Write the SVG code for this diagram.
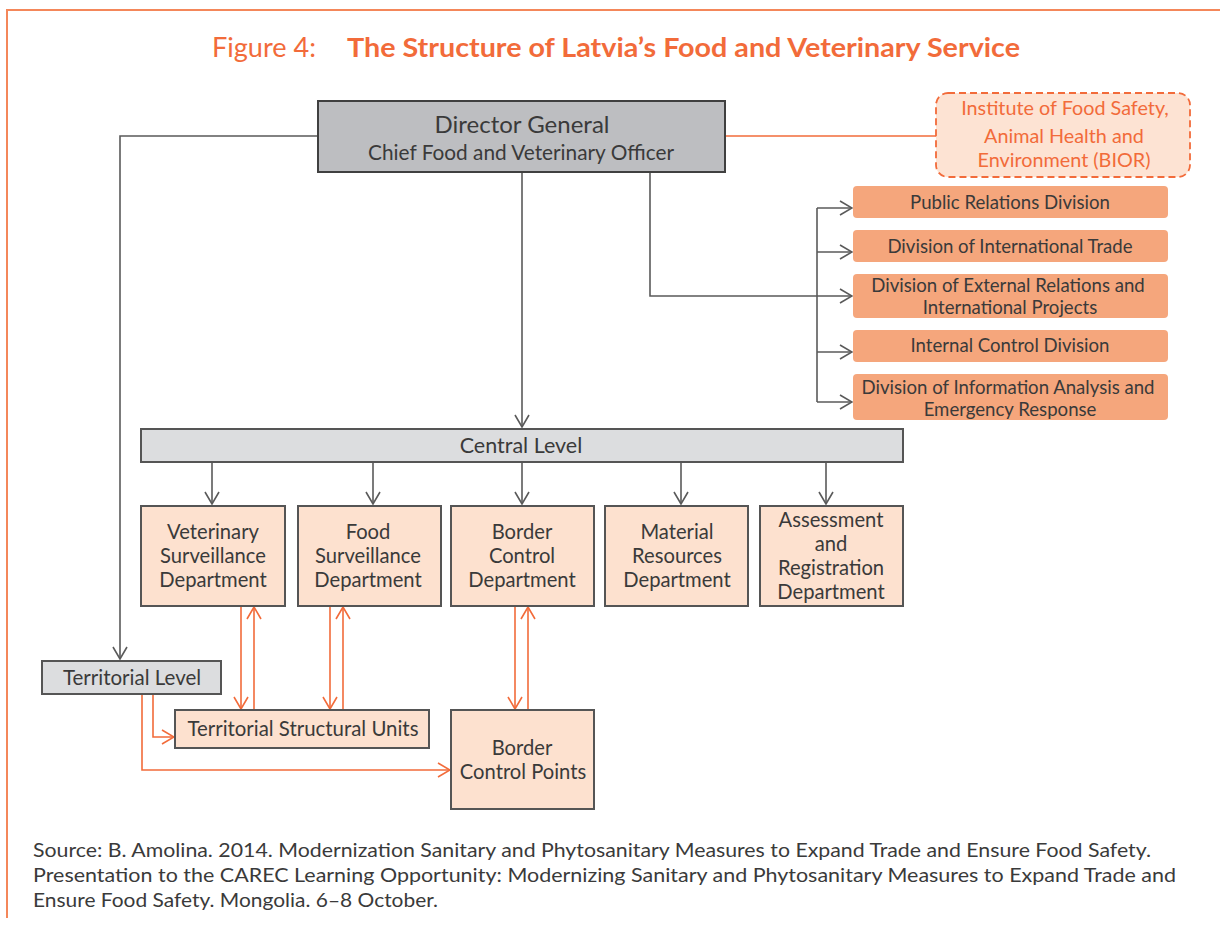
<svg xmlns="http://www.w3.org/2000/svg" width="1220" height="927" viewBox="0 0 1220 927">
<defs>
<style>
text{font-family:Lato,"Open Sans","Liberation Sans",sans-serif;fill:#3a3a3a}
.t{text-anchor:middle}
.gbox{fill:#dcdddf;stroke:#555;stroke-width:2}
.dept{fill:#fde1cf;stroke:#555;stroke-width:2}
.div{fill:#f5a67c;stroke:none}
.gl{fill:none;stroke:#5a5a5a;stroke-width:1.6}
.ol{fill:none;stroke:#f26b3a;stroke-width:1.6}
</style>
<marker id="ag" viewBox="0 0 14 16" refX="13" refY="8" markerWidth="14" markerHeight="16" orient="auto" markerUnits="userSpaceOnUse"><path d="M1,1 L13,8 L1,15" fill="none" stroke="#5a5a5a" stroke-width="1.6"/></marker>
<marker id="ao" viewBox="0 0 14 16" refX="13" refY="8" markerWidth="14" markerHeight="16" orient="auto" markerUnits="userSpaceOnUse"><path d="M1,1 L13,8 L1,15" fill="none" stroke="#f26b3a" stroke-width="1.6"/></marker>
</defs>
<rect width="1220" height="927" fill="#fff"/>
<path d="M1220,10 L7,10 L7,918" fill="none" stroke="#f4875a" stroke-width="2"/>
<g id="title">
<text x="212" y="57" font-size="26" textLength="104" lengthAdjust="spacingAndGlyphs" style="fill:#f26b3a">Figure 4:</text>
<text x="347" y="57" font-size="26" font-weight="bold" textLength="673" lengthAdjust="spacingAndGlyphs" style="fill:#f26b3a">The Structure of Latvia’s Food and Veterinary Service</text>
</g>
<g id="connectors">
<path class="gl" d="M318,136 H120 V659" marker-end="url(#ag)"/>
<path d="M725,136 H936" stroke="#f26b3a" stroke-width="1.6"/>
<path class="gl" d="M650,172 V296 H852" marker-end="url(#ag)"/>
<path class="gl" d="M817,208 V402"/>
<path class="gl" d="M817,208 H852" marker-end="url(#ag)"/>
<path class="gl" d="M817,252 H852" marker-end="url(#ag)"/>
<path class="gl" d="M817,352 H852" marker-end="url(#ag)"/>
<path class="gl" d="M817,402 H852" marker-end="url(#ag)"/>
<path class="gl" d="M522,172 V427" marker-end="url(#ag)"/>
<path class="gl" d="M212,463 V504" marker-end="url(#ag)"/>
<path class="gl" d="M373,463 V504" marker-end="url(#ag)"/>
<path class="gl" d="M522,463 V504" marker-end="url(#ag)"/>
<path class="gl" d="M681,463 V504" marker-end="url(#ag)"/>
<path class="gl" d="M826,463 V504" marker-end="url(#ag)"/>
<path class="ol" d="M241,607 V709" marker-end="url(#ao)"/>
<path class="ol" d="M254,709 V607" marker-end="url(#ao)"/>
<path class="ol" d="M330,607 V709" marker-end="url(#ao)"/>
<path class="ol" d="M343,709 V607" marker-end="url(#ao)"/>
<path class="ol" d="M515,607 V709" marker-end="url(#ao)"/>
<path class="ol" d="M528,709 V607" marker-end="url(#ao)"/>
<path class="ol" d="M153,695 V737 H174" marker-end="url(#ao)"/>
<path class="ol" d="M142,695 V770 H450" marker-end="url(#ao)"/>
</g>
<g id="director">
<rect x="318" y="101" width="407" height="71" fill="#bdbec1" stroke="#404040" stroke-width="2"/>
<text class="t" x="522" y="133" font-size="24">Director General</text>
<text class="t" x="521" y="160" font-size="20.8">Chief Food and Veterinary Officer</text>
</g>
<g id="bior">
<rect x="936" y="93" width="254" height="84" rx="12" fill="#fde3d3" stroke="#f26b3a" stroke-width="1.8" stroke-dasharray="7,4"/>
<text class="t" x="1065" y="115" font-size="19.8" style="fill:#f26b3a">Institute of Food Safety,</text>
<text class="t" x="1064" y="143" font-size="19.8" style="fill:#f26b3a">Animal Health and</text>
<text class="t" x="1064" y="167" font-size="19.8" style="fill:#f26b3a">Environment (BIOR)</text>
</g>
<g id="div-pr">
<rect class="div" x="853" y="186" width="315" height="32" rx="4"/>
<text class="t" x="1010" y="209" font-size="18.6">Public Relations Division</text>
</g>
<g id="div-it">
<rect class="div" x="853" y="230" width="315" height="32" rx="4"/>
<text class="t" x="1010" y="253" font-size="18.6">Division of International Trade</text>
</g>
<g id="div-er">
<rect class="div" x="853" y="274" width="315" height="44" rx="4"/>
<text class="t" x="1008" y="292" font-size="18.6">Division of External Relations and</text>
<text class="t" x="1010" y="314" font-size="18.6">International Projects</text>
</g>
<g id="div-ic">
<rect class="div" x="853" y="330" width="315" height="32" rx="4"/>
<text class="t" x="1010" y="352" font-size="18.6">Internal Control Division</text>
</g>
<g id="div-ia">
<rect class="div" x="853" y="374" width="315" height="46" rx="4"/>
<text class="t" x="1008" y="394" font-size="18.6">Division of Information Analysis and</text>
<text class="t" x="1010" y="416" font-size="18.6">Emergency Response</text>
</g>
<g id="central">
<rect class="gbox" x="141" y="429" width="762" height="33"/>
<text class="t" x="521" y="453" font-size="21.5">Central Level</text>
</g>
<g id="dept-vet">
<rect class="dept" x="141" y="506" width="144" height="100"/>
<text class="t" x="213" y="539" font-size="20.2">Veterinary</text>
<text class="t" x="213" y="563" font-size="20.2">Surveillance</text>
<text class="t" x="213" y="587" font-size="20.2">Department</text>
</g>
<g id="dept-food">
<rect class="dept" x="298" y="506" width="143" height="100"/>
<text class="t" x="368" y="539" font-size="20.2">Food</text>
<text class="t" x="368" y="563" font-size="20.2">Surveillance</text>
<text class="t" x="368" y="587" font-size="20.2">Department</text>
</g>
<g id="dept-border">
<rect class="dept" x="451" y="506" width="143" height="100"/>
<text class="t" x="522" y="539" font-size="20.2">Border</text>
<text class="t" x="522" y="563" font-size="20.2">Control</text>
<text class="t" x="522" y="587" font-size="20.2">Department</text>
</g>
<g id="dept-material">
<rect class="dept" x="605" y="506" width="143" height="100"/>
<text class="t" x="677" y="539" font-size="20.2">Material</text>
<text class="t" x="677" y="563" font-size="20.2">Resources</text>
<text class="t" x="677" y="587" font-size="20.2">Department</text>
</g>
<g id="dept-assess">
<rect class="dept" x="760" y="506" width="143" height="100"/>
<text class="t" x="831" y="527" font-size="20.2">Assessment</text>
<text class="t" x="831" y="551" font-size="20.2">and</text>
<text class="t" x="831" y="575" font-size="20.2">Registration</text>
<text class="t" x="831" y="599" font-size="20.2">Department</text>
</g>
<g id="territorial">
<rect class="gbox" x="42" y="661" width="179" height="33"/>
<text class="t" x="132" y="685" font-size="20.5">Territorial Level</text>
</g>
<g id="tsu">
<rect class="dept" x="175" y="710" width="254" height="38"/>
<text class="t" x="303" y="736" font-size="20.4">Territorial Structural Units</text>
</g>
<g id="bcp">
<rect class="dept" x="451" y="710" width="143" height="99"/>
<text class="t" x="522" y="755" font-size="20.2">Border</text>
<text class="t" x="523" y="779" font-size="20.2">Control Points</text>
</g>
<g id="source">
<text x="33" y="857" font-size="19" textLength="1118" lengthAdjust="spacingAndGlyphs">Source: B. Amolina. 2014. Modernization Sanitary and Phytosanitary Measures to Expand Trade and Ensure Food Safety.</text>
<text x="33" y="882" font-size="19" textLength="1143" lengthAdjust="spacingAndGlyphs">Presentation to the CAREC Learning Opportunity: Modernizing Sanitary and Phytosanitary Measures to Expand Trade and</text>
<text x="33" y="907" font-size="19" textLength="405" lengthAdjust="spacingAndGlyphs">Ensure Food Safety. Mongolia. 6–8 October.</text>
</g>
</svg>
